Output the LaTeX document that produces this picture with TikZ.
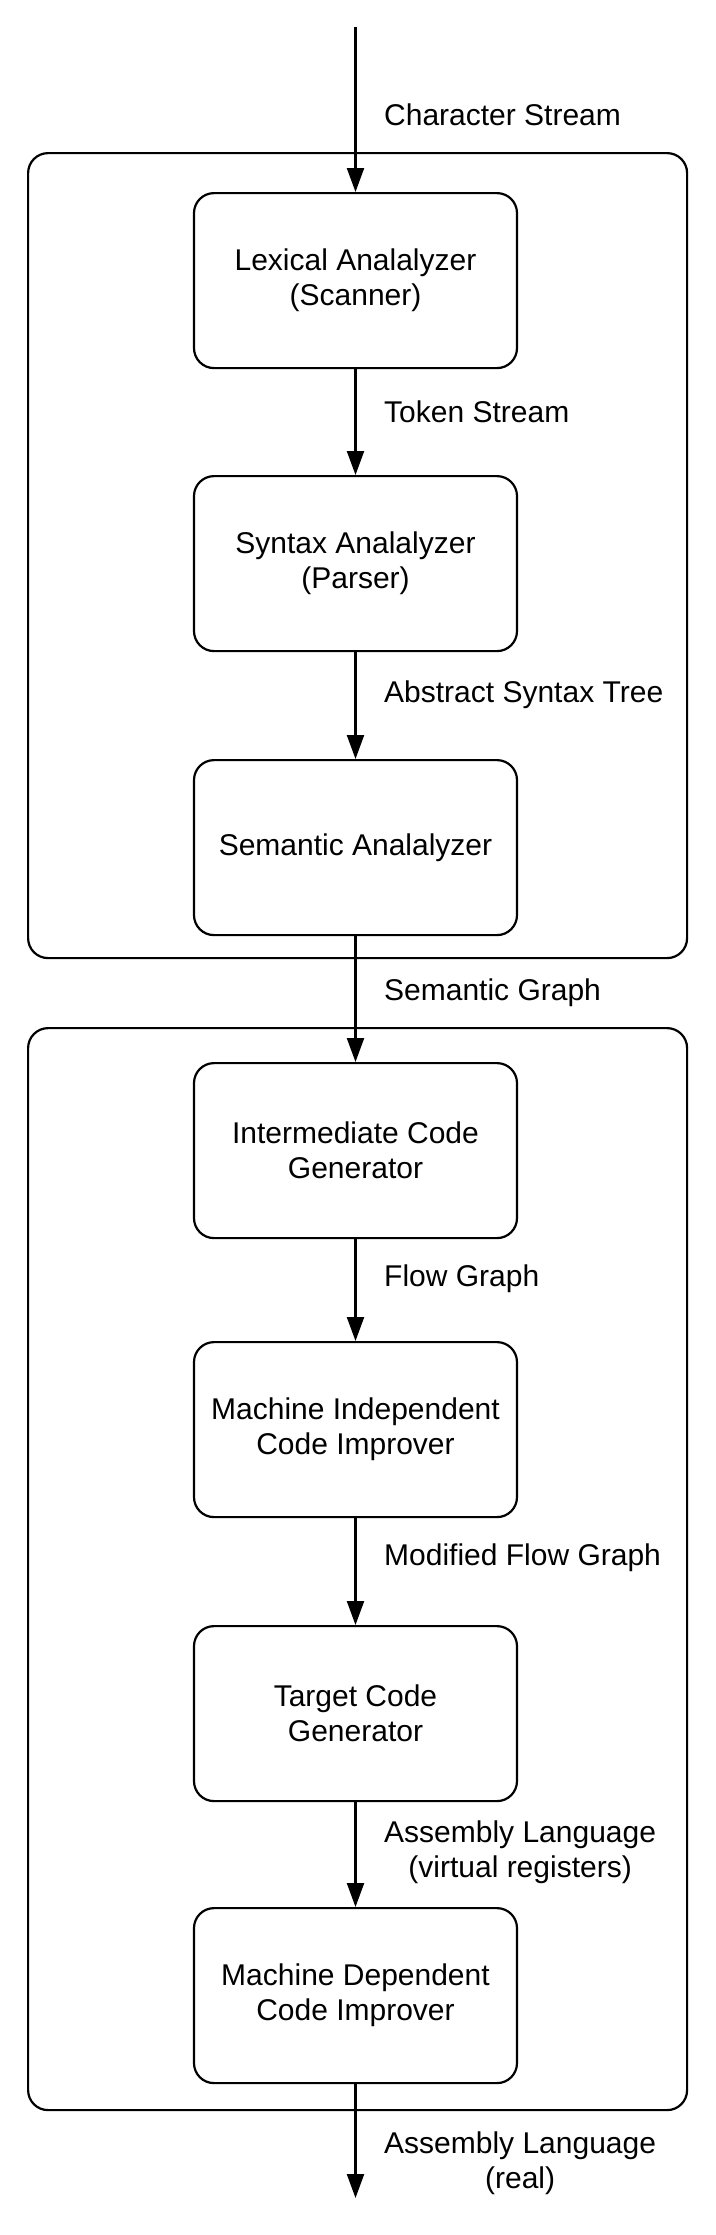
\documentclass[tikz,border=0pt]{standalone}
\usepackage{fontspec}
\setmainfont{Liberation Sans}
\usetikzlibrary{arrows.meta}
\begin{document}
\begin{tikzpicture}[x=1pt,y=-1pt,
  stage/.style={draw, line width=2.2pt, rounded corners=20pt, minimum width=323pt, minimum height=175pt, align=center, font=\fontsize{30}{35}\selectfont, anchor=north, inner sep=0pt},
  group/.style={draw, line width=2.2pt, rounded corners=20pt, anchor=north west, inner sep=0pt},
  lbl/.style={anchor=west, align=center, font=\fontsize{30}{35}\selectfont, inner sep=0pt},
  flow/.style={line width=2.2pt, -{Triangle[length=24pt,width=17pt]}}]
\useasboundingbox (0,0) rectangle (715,2235);
\node[group, minimum width=659pt, minimum height=805pt] (g1) at (27,152) {};
\node[group, minimum width=659pt, minimum height=1082pt] (g2) at (27,1027) {};

\node[stage] (b1) at (355.5,192) {Lexical Analalyzer\\(Scanner)};
\node[stage] (b2) at (355.5,475) {Syntax Analalyzer\\(Parser)};
\node[stage] (b3) at (355.5,759) {Semantic Analalyzer};
\node[stage] (b4) at (355.5,1062) {Intermediate Code\\Generator};
\node[stage] (b5) at (355.5,1341) {Machine Independent\\Code Improver};
\node[stage] (b6) at (355.5,1625) {Target Code\\Generator};
\node[stage] (b7) at (355.5,1907) {Machine Dependent\\Code Improver};

\coordinate (top) at (355.5,27);
\coordinate (bot) at (355.5,2198);

\draw[flow] (top) -- (b1.north);
\draw[flow] (b1.south) -- (b2.north);
\draw[flow] (b2.south) -- (b3.north);
\draw[flow] (b3.south) -- (b4.north);
\draw[flow] (b4.south) -- (b5.north);
\draw[flow] (b5.south) -- (b6.north);
\draw[flow] (b6.south) -- (b7.north);
\draw[flow] (b7.south) -- (bot);

\node[lbl] (l1) at (384,115) {Character Stream};
\node[lbl] (l2) at (384,412) {Token Stream};
\node[lbl] (l3) at (384,695) {Abstract Syntax Tree};
\node[lbl] (l4) at (384,993) {Semantic Graph};
\node[lbl] (l5) at (384,1279) {Flow Graph};
\node[lbl] (l6) at (384,1558) {Modified Flow Graph};
\node[lbl] (l7) at (384,1852) {Assembly Language\\(virtual registers)};
\node[lbl] (l8) at (384,2163.5) {Assembly Language\\(real)};
\end{tikzpicture}
\end{document}
